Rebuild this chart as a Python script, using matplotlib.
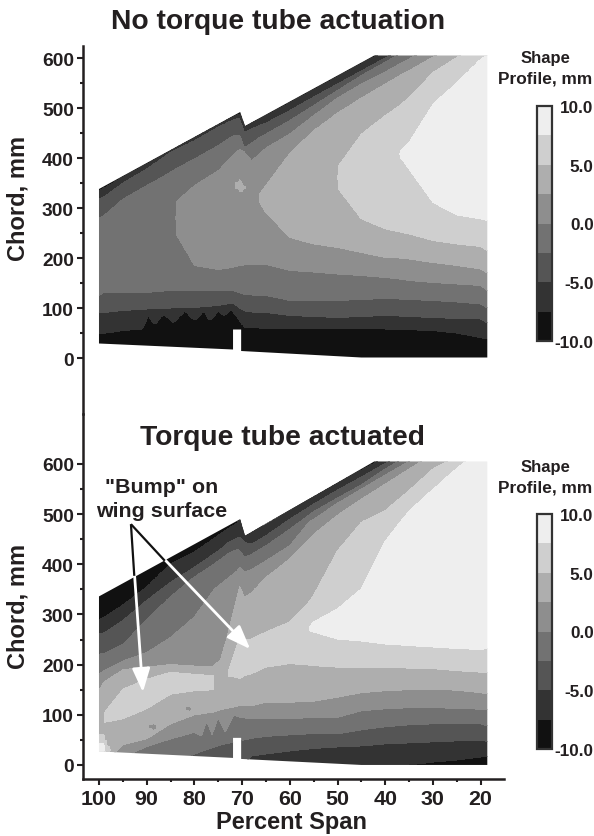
import numpy as np
import matplotlib
matplotlib.use("Agg")
import matplotlib.pyplot as plt
from matplotlib.patches import Polygon
from matplotlib.ticker import FixedLocator

plt.rcParams['font.family'] = ['Liberation Sans', 'DejaVu Sans']
plt.rcParams['font.weight'] = 'bold'

W, H = 594, 837
n = np.nan

levels = [-10, -7.5, -5, -2.5, 0, 2.5, 5, 7.5, 10]
greys = ['#111111', '#333333', '#555555', '#727272', '#8e8e8e', '#aeaeae', '#cfcfcf', '#eeeeee']
line_levels = [-7.5, -5, -2.5, 0, 2.5, 5, 7.5]

# wing outline
top_edge_span = [100, 70.4, 69.4, 42.3, 18.6, 18.6, 45, 70.2, 70.2, 71.9, 71.9, 100]
top_edge_chord = [338, 492, 464, 605, 605, 1, 1, 14, 57, 57, 17, 29]
bot_edge_span = [100, 70.4, 69.4, 42.3, 18.6, 18.6, 45, 70.2, 70.2, 71.9, 71.9, 100]
bot_edge_chord = [336, 490, 457, 605, 605, 0, 0, 12, 54, 54, 14, 27]

# no actuation: chord where each contour is crossed, per span station
top_spans = [100, 99, 95, 90, 85, 84, 80, 75, 72, 70.5, 69.5, 68, 66.5, 65, 60, 55, 50, 45, 40, 37, 35, 30, 25, 20, 18.6]
top_low = [
    [48, 51, 55, 60, 75, 77, 85, 88, 95, 70, 62, 60, 59, 58, 58, 58, 58, 58, 58, 57, 56, 55, 50, 41, 38],
    [91, 91, 95, 98, 100, 100, 101, 105, 110, 100, 94, 92, 91, 91, 85, 83, 81, 83, 85, 84, 83, 81, 79, 78, 70],
    [125, 131, 131, 131, 135, 135, 135, 135, 135, 130, 127, 126, 125, 125, 115, 115, 115, 117, 119, 118, 117, 115, 112, 108, 100],
    [n, n, n, n, n, 251, 185, 177, 181, 185, 186, 187, 187, 187, 175, 172, 168, 165, 161, 158, 155, 151, 148, 145, 135],
    [n, n, n, n, n, n, n, n, n, n, n, n, 315, 291, 241, 228, 221, 211, 201, 200, 198, 191, 185, 178, 170],
    [n, n, n, n, n, n, n, n, n, n, n, n, n, n, n, n, 341, 278, 258, 252, 248, 235, 228, 223, 215],
    [n, n, n, n, n, n, n, n, n, n, n, n, n, n, n, n, n, n, n, 405, 378, 311, 286, 278, 275],
]
top_up = [
    [334, 339, 361, 387, 414, 419, 440, 466, 482, 488, 461, 469, 477, 484, 510, 536, 562, 588, 614, 630, 640, 666, 692, 718, 725],
    [318, 322, 350, 378, 412, 416, 435, 462, 476, 480, 451, 458, 465, 470, 495, 522, 548, 574, 600, 615, 625, 650, 680, 710, 715],
    [280, 285, 318, 345, 372, 378, 398, 425, 444, 445, 420, 430, 440, 448, 475, 505, 535, 565, 592, 608, 618, 640, 670, 700, 705],
    [n, n, n, n, n, 311, 345, 375, 405, 418, 412, 395, 408, 420, 448, 485, 520, 548, 572, 588, 598, 625, 650, 675, 680],
    [n, n, n, n, n, n, n, n, n, n, n, n, 325, 345, 410, 455, 490, 520, 548, 565, 575, 602, 630, 660, 670],
    [n, n, n, n, n, n, n, n, n, n, n, n, n, n, n, n, 381, 448, 485, 505, 521, 571, 601, 630, 640],
    [n, n, n, n, n, n, n, n, n, n, n, n, n, n, n, n, n, n, n, 411, 431, 508, 551, 598, 605],
]
# scalloped edge of the black band
top_black_span = [100, 95, 91, 89.7, 88.3, 86.5, 84.4, 82, 79.9, 78.1, 76.7, 75, 73.9, 72.2, 69.4, 60, 40, 30, 25, 20, 18.6]
top_black_chord = [48, 55, 58, 85, 68, 88, 71, 95, 75, 95, 75, 95, 85, 98, 61, 58, 58, 55, 50, 41, 38]
# small light island near the 70 % station
top_extra_span = [71.0, 71.0, 71.0, 70.5, 70.5, 70.5, 70.0, 70.0, 70.0, 69.5, 69.5, 69.5]
top_extra_chord = [332, 345, 358, 318, 345, 375, 322, 340, 366, 332, 340, 350]
top_extra_value = [1, 3.5, 1, 1, 3.5, 1, 1, 3.5, 1, 1, 3, 1]

# torque tube actuated
bot_spans = [100, 99, 95, 90, 85, 80, 76, 74.5, 73, 71, 70.5, 69.5, 68, 65, 60, 56, 55, 50, 45, 40, 35, 30, 25, 20, 18.6]
bot_low = [
    [-60, -60, -60, -60, -60, -60, -60, -60, -60, -60, -60, -60, -60, -60, -60, -60, -60, -60, -30, -5, 0, 6, 10, 16, 17],
    [-40, -40, -40, -40, -40, -40, -20, -20, -20, -20, -20, 5, 18, 22, 28, 32, 33, 36, 38, 42, 44, 46, 48, 49, 47],
    [-20, -20, -20, -20, -10, 22, 35, 40, 43, 47, 48, 50, 53, 57, 60, 62, 62, 62, 70, 76, 80, 82, 82, 82, 78],
    [10, 10, 15, 37, 52, 65, 75, 80, 88, 93, 95, 95, 92, 92, 92, 94, 95, 95, 108, 112, 114, 114, 113, 111, 110],
    [0, 0, 40, 52, 82, 100, 105, 110, 113, 117, 118, 118, 118, 125, 125, 126, 127, 135, 144, 148, 150, 151, 149, 144, 142],
    [n, 85, 92, 112, 141, 148, 150, n, 176, 175, 172, 178, 182, 195, 202, 199, 198, 195, 195, 195, 193, 192, 188, 185, 185],
    [n, n, n, n, n, n, n, n, n, n, n, n, n, n, n, 268, 265, 251, 247, 241, 238, 235, 232, 230, 232],
]
bot_up = [
    [290, 293, 318, 354, 400, 424, 450, 460, 470, 482, 487, 455, 462, 482, 508, 529, 534, 561, 587, 613, 640, 665, 690, 715, 722],
    [261, 263, 288, 328, 364, 394, 420, 430, 443, 452, 454, 444, 440, 457, 490, 514, 520, 548, 574, 601, 625, 650, 675, 700, 705],
    [221, 222, 240, 290, 336, 375, 400, 410, 421, 430, 427, 414, 420, 437, 470, 498, 505, 532, 558, 590, 618, 645, 670, 695, 700],
    [180, 188, 207, 224, 254, 295, 349, 361, 372, 387, 394, 384, 390, 407, 437, 484, 490, 522, 550, 578, 605, 630, 655, 680, 690],
    [150, 165, 190, 195, 200, 197, 197, 210, 260, 338, 357, 334, 344, 374, 411, 450, 460, 498, 530, 560, 590, 620, 650, 680, 690],
    [n, 102, 151, 171, 185, 181, 178, n, 182, 241, 246, 250, 251, 265, 285, 325, 338, 427, 484, 507, 547, 590, 615, 650, 660],
    [n, n, n, n, n, n, n, n, n, n, n, n, n, n, n, 274, 285, 311, 351, 447, 507, 550, 592, 630, 640],
]
# spikes of the grey band under the bump
bot_spike_span = [100, 95, 90, 85, 80, 78.5, 77.4, 76.3, 75, 73.5, 71.8, 70.5, 68, 65, 60, 55, 50, 45, 40, 35, 30, 25, 20, 18.6]
bot_spike_chord = [10, 15, 37, 52, 65, 58, 88, 60, 95, 65, 100, 95, 92, 92, 92, 95, 95, 108, 112, 114, 114, 113, 111, 110]
# light patch at the root corner, two dark islands under the bump
bot_extra_span = [99.8, 99.8, 99.8, 99.2, 99.2, 99.2, 98.6, 98.6, 98.6, 98.0, 98.0, 98.0,
                  89.3, 89.3, 89.3, 88.7, 88.7, 88.7, 88.1, 88.1, 88.1,
                  81.5, 81.5, 81.5, 80.9, 80.9, 80.9]
bot_extra_chord = [30, 50, 68, 30, 50, 68, 30, 45, 60, 30, 42, 52,
                   68, 76, 84, 62, 74, 90, 66, 76, 86,
                   104, 112, 120, 102, 112, 122]
bot_extra_value = [8.5, 7, 3.5, 8.5, 7, 3.5, 7, 5.5, 3.5, 6, 4, 3,
                   3, 2, 3, 3, 2, 3, 3, 2, 3,
                   3, 2, 3, 3, 2, 3]

y_major = [0, 100, 200, 300, 400, 500, 600]
y_minor = [50, 150, 250, 350, 450, 550]
x_major = [100, 90, 80, 70, 60, 50, 40, 30, 20]
x_minor = [95, 85, 75, 65, 55, 45, 35, 25]
bar_ticks = [-10, -5, 0, 5, 10]

chord_grid = np.arange(-20, 760, 1.0)
span_grid = np.linspace(100, 18.6, 327)


def line_at(sp, vals, s):
    # contour height at span s, nan outside the stretch where that contour exists
    sp = np.array(sp, dtype=float)
    vals = np.array(vals, dtype=float)
    ok = ~np.isnan(vals)
    i = 0
    while i < len(sp):
        if ok[i]:
            k = i
            while k + 1 < len(sp) and ok[k + 1]:
                k += 1
            if sp[k] <= s <= sp[i]:
                return np.interp(s, sp[i:k + 1][::-1], vals[i:k + 1][::-1])
            i = k + 1
        else:
            i += 1
    return np.nan


def make_grid(spans, low, up, ex_span, ex_chord, ex_value, own_k, own_span, own_chord):
    Z = np.zeros((len(chord_grid), len(span_grid)))
    for j, s in enumerate(span_grid):
        pts = []
        top = None
        for k, lev in enumerate(line_levels):
            a = line_at(spans, low[k], s)
            b = line_at(spans, up[k], s)
            if np.isnan(a):
                continue
            if k == own_k and not np.isnan(line_at(own_span, own_chord, s)):
                a = line_at(own_span, own_chord, s)
            pts.append((a, lev))
            pts.append((b, lev))
            top = (a + b) / 2, lev + 1.0
        pts.append(top)
        for p, q, r in zip(ex_span, ex_chord, ex_value):
            if abs(p - s) < 0.3:
                pts.append((q, r))
        pts.sort()
        c = [-300] + [p[0] for p in pts] + [1200]
        v = [pts[0][1] - 1.25] + [p[1] for p in pts] + [pts[-1][1] - 1.25]
        Z[:, j] = np.interp(chord_grid, c, v)
    return Z


def box(x0, y0, x1, y1):
    # pixels of the picture -> figure fractions
    return [x0 / W, 1 - y1 / H, (x1 - x0) / W, (y1 - y0) / H]


def ftext(x, y, s, **kw):
    fig.text(x / W, 1 - y / H, s, ha='center', va='center', color='#231f20', **kw)


fig = plt.figure(figsize=(W / 100, H / 100), dpi=100)

ax1 = fig.add_axes(box(83, 47, 504, 415))
ax2 = fig.add_axes(box(83, 415, 504, 780))
ax1.set_xlim(103.35, 15.1)
ax2.set_xlim(103.35, 15.1)
ax1.set_ylim(-112, 624)
ax2.set_ylim(-28, 699.6)

Z1 = make_grid(top_spans, top_low, top_up, top_extra_span, top_extra_chord, top_extra_value, 0, top_black_span, top_black_chord)
Z2 = make_grid(bot_spans, bot_low, bot_up, bot_extra_span, bot_extra_chord, bot_extra_value, 3, bot_spike_span, bot_spike_chord)
cs1 = ax1.contourf(span_grid, chord_grid, Z1, levels=levels, colors=greys)
cs2 = ax2.contourf(span_grid, chord_grid, Z2, levels=levels, colors=greys)
cs1.set_clip_path(Polygon(np.c_[top_edge_span, top_edge_chord], transform=ax1.transData))
cs2.set_clip_path(Polygon(np.c_[bot_edge_span, bot_edge_chord], transform=ax2.transData))

for ax in [ax1, ax2]:
    ax.patch.set_alpha(0)
    for side in ['top', 'right', 'bottom']:
        ax.spines[side].set_visible(False)
    ax.spines['left'].set_linewidth(1.8)
    ax.spines['left'].set_color('#231f20')
    ax.yaxis.set_major_locator(FixedLocator(y_major))
    ax.yaxis.set_minor_locator(FixedLocator(y_minor))
    ax.tick_params(axis='y', which='major', length=4.5, width=1.5, labelsize=13.8, color='#231f20', labelcolor='#231f20', pad=2)
    ax.tick_params(axis='y', which='minor', length=2.5, width=1.5, color='#231f20')
    ax.set_xticks([])

ax2.spines['bottom'].set_visible(True)
ax2.spines['bottom'].set_linewidth(1.8)
ax2.spines['bottom'].set_color('#231f20')
ax2.xaxis.set_major_locator(FixedLocator(x_major))
ax2.xaxis.set_minor_locator(FixedLocator(x_minor))
ax2.tick_params(axis='x', which='major', length=4, width=1.5, labelsize=15.4, color='#231f20', labelcolor='#231f20', pad=3)
ax2.tick_params(axis='x', which='minor', length=2.5, width=1.5, color='#231f20')

# shape profile bars
for (y0, y1, cs, ly) in [(107, 342, cs1, 59), (515, 750, cs2, 468)]:
    cax = fig.add_axes(box(537, y0, 552, y1))
    cb = fig.colorbar(cs, cax=cax)
    cb.set_ticks(bar_ticks)
    cb.set_ticklabels(['%.1f' % t for t in bar_ticks])
    cax.tick_params(length=0, labelsize=12.3, pad=30, labelcolor='#231f20')
    for lab in cax.get_yticklabels():
        lab.set_ha('right')
    cb.outline.set_linewidth(1.6)
    cb.outline.set_edgecolor('#333333')
    ftext(545, ly, 'Shape', fontsize=12)
    ftext(545, ly + 20, 'Profile, mm', fontsize=12.4)

ftext(278, 22, 'No torque tube actuation', fontsize=20.3)
ftext(282, 438, 'Torque tube actuated', fontsize=20.3)
ftext(18, 198, 'Chord, mm', fontsize=17, rotation=90)
ftext(18, 606, 'Chord, mm', fontsize=17, rotation=90)
ftext(291, 823, 'Percent Span', fontsize=17)
ftext(162, 488, '"Bump" on', fontsize=15.4)
ftext(162, 512, 'wing surface', fontsize=15.4)

# bump arrows: black over the white background, white over the wing
start = (93.3, 480)
for tip, brk in [((90.8, 145), (92.6, 377)), ((68.3, 231), (86.2, 407))]:
    ax2.annotate('', xy=tip, xytext=start, zorder=5,
                 arrowprops=dict(arrowstyle='-|>,head_width=0.34,head_length=0.9', color='white',
                                 lw=2, mutation_scale=16, shrinkA=0, shrinkB=0))
    ax2.plot([start[0], brk[0]], [start[1], brk[1]], color='#111111', lw=1.6, zorder=6, solid_capstyle='butt')
ax2.set_xlim(103.35, 15.1)
ax2.set_ylim(-28, 699.6)

fig.savefig('out.png', dpi=100)
